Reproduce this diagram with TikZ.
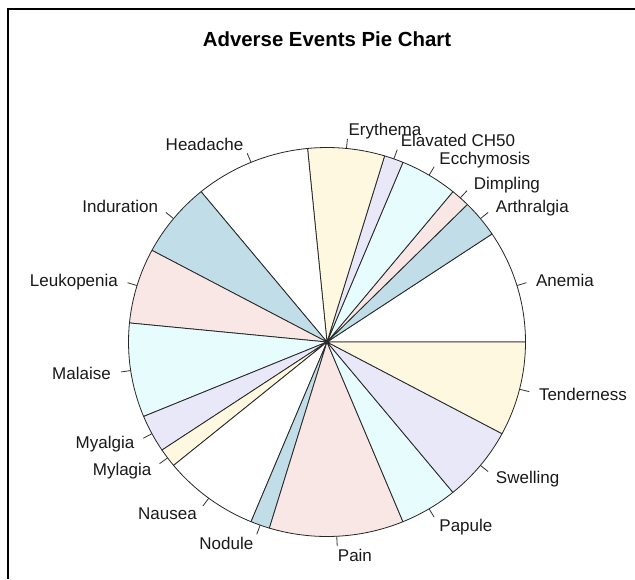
\documentclass[tikz,border=0pt]{standalone}
\usepackage{fontspec}
\setmainfont{Liberation Sans}
\definecolor{rlightblue}{HTML}{C1DEE8}
\definecolor{rmistyrose}{HTML}{F9E7E5}
\definecolor{rlightcyan}{HTML}{E6FCFD}
\definecolor{rlavender}{HTML}{E8E8F8}
\definecolor{rcornsilk}{HTML}{FFF8E0}
\begin{document}
\begin{tikzpicture}[x=1pt,y=1pt,
  slice/.style={draw=black!85, line width=0.8pt, line join=round},
  tickline/.style={draw=black!80, line width=0.8pt},
  lab/.style={font=\fontsize{17}{20}\selectfont, inner sep=0pt, text=black!90},
  frameline/.style={draw=black, line width=2pt}]
\useasboundingbox (0,0) rectangle (635,-579);
\fill[white] (0,0) rectangle (635,-579);
\def\cx{327}\def\cy{-342}\def\rx{198.5}\def\ry{194.5}
\coordinate (O) at (\cx,\cy);
\foreach \a/\b/\col/\nm/\txt in {
  0/6/white/anemia/Anemia,
  6/8/rlightblue/arthralgia/Arthralgia,
  8/9/rmistyrose/dimpling/Dimpling,
  9/12/rlightcyan/ecchymosis/Ecchymosis,
  12/13/rlavender/elavated/Elavated CH50,
  13/17/rcornsilk/erythema/Erythema,
  17/23/white/headache/Headache,
  23/27/rlightblue/induration/Induration,
  27/31/rmistyrose/leukopenia/Leukopenia,
  31/36/rlightcyan/malaise/Malaise,
  36/38/rlavender/myalgia/Myalgia,
  38/39/rcornsilk/mylagia/Mylagia,
  39/44/white/nausea/Nausea,
  44/45/rlightblue/nodule/Nodule,
  45/52/rmistyrose/pain/Pain,
  52/55/rlightcyan/papule/Papule,
  55/59/rlavender/swelling/Swelling,
  59/64/rcornsilk/tenderness/Tenderness} {
  \pgfmathsetmacro\sa{\a*5.625}
  \pgfmathsetmacro\ea{\b*5.625}
  \pgfmathsetmacro\ma{(\sa+\ea)/2}
  \coordinate (\nm-s) at ({\cx+\rx*cos(\sa)},{\cy+\ry*sin(\sa)});
  \filldraw[slice, fill=\col] (O) -- (\nm-s)
     arc[start angle=\sa, end angle=\ea, x radius=\rx pt, y radius=\ry pt] -- cycle;
  \coordinate (\nm-in) at ({\cx+\rx*cos(\ma)},{\cy+\ry*sin(\ma)});
  \coordinate (\nm-out) at ({\cx+1.05*\rx*cos(\ma)},{\cy+1.05*\ry*sin(\ma)});
  \draw[tickline] (\nm-in) -- (\nm-out);
  \pgfmathtruncatemacro\side{cos(\ma)>=0}
  \ifnum\side=1 \def\anc{base west}\else\def\anc{base east}\fi
  \node[lab, anchor=\anc] (\nm) at ({\cx+1.1*\rx*cos(\ma)},{\cy+1.1*\ry*sin(\ma)-6.1}) {\txt};
}
\node[font=\bfseries\fontsize{20.4}{24}\selectfont, anchor=base, inner sep=0pt] (title) at (327,-46) {Adverse Events Pie Chart};
\coordinate (fbl) at (8,-579);
\coordinate (ftl) at (8,-9);
\coordinate (ftr) at (635,-9);
\draw[frameline] (fbl) -- (ftl) -- (ftr);
\end{tikzpicture}
\end{document}
